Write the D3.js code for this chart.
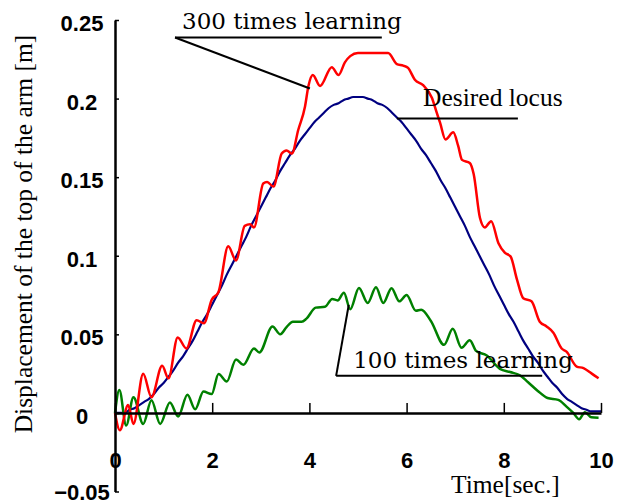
<!DOCTYPE html>
<html lang="en">
<head>
    <meta charset="UTF-8">
    <script src="https://cdnjs.cloudflare.com/ajax/libs/d3/7.8.5/d3.min.js"></script>
    <title>Displacement of the top of the arm</title>
    <style>
        body { margin: 0; background: #fff; }
        .tick-label { font-family: "Liberation Sans", Arial, sans-serif; font-size: 22px; font-weight: 700; fill: #000; }
        .axis-title { font-family: "Liberation Serif", "Times New Roman", serif; font-size: 25.5px; fill: #000; }
        .note-wide { font-family: "DejaVu Serif", serif; font-size: 23px; fill: #000; }
        .note { font-family: "Liberation Serif", "Times New Roman", serif; font-size: 25.5px; fill: #000; }
    </style>
</head>
<body>
<script>
    // tick labels
    const xTicks = [0, 2, 4, 6, 8, 10];
    const yTicks = [-0.05, 0, 0.05, 0.1, 0.15, 0.2, 0.25];
    const yTickLabels = ['\u22120.05', '0', '0.05', '0.1', '0.15', '0.2', '0.25'];

    // [time sec, displacement m]
    const desired = [
        [0, 0], [0.2, 0.000], [0.3, 0.002], [0.4, 0.003], [0.5, 0.005], [0.6, 0.007], [0.7, 0.009],
        [0.8, 0.012], [0.9, 0.016], [1.0, 0.019], [1.1, 0.023], [1.2, 0.027], [1.3, 0.032], [1.4, 0.036],
        [1.5, 0.041], [1.6, 0.046], [1.7, 0.052], [1.8, 0.058], [1.9, 0.063], [2.0, 0.069], [2.1, 0.075],
        [2.2, 0.081], [2.3, 0.088], [2.4, 0.094], [2.5, 0.100], [2.6, 0.106], [2.7, 0.112], [2.8, 0.119],
        [2.9, 0.125], [3.0, 0.131], [3.1, 0.137], [3.2, 0.143], [3.3, 0.148], [3.4, 0.154], [3.5, 0.159],
        [3.6, 0.164], [3.7, 0.168], [3.8, 0.173], [3.9, 0.177], [4.0, 0.181], [4.1, 0.185], [4.2, 0.188],
        [4.3, 0.191], [4.4, 0.194], [4.5, 0.196], [4.6, 0.197], [4.7, 0.199], [4.8, 0.200], [4.9, 0.201],
        [5.0, 0.201], [5.1, 0.201], [5.2, 0.200], [5.3, 0.199], [5.4, 0.197], [5.5, 0.196], [5.6, 0.194],
        [5.7, 0.191], [5.8, 0.188], [5.9, 0.185], [6.0, 0.181], [6.1, 0.177], [6.2, 0.173], [6.3, 0.168],
        [6.4, 0.164], [6.5, 0.159], [6.6, 0.154], [6.7, 0.148], [6.8, 0.143], [6.9, 0.137], [7.0, 0.131],
        [7.1, 0.125], [7.2, 0.119], [7.3, 0.112], [7.4, 0.106], [7.5, 0.100], [7.6, 0.094], [7.7, 0.088],
        [7.8, 0.081], [7.9, 0.075], [8.0, 0.069], [8.1, 0.063], [8.2, 0.058], [8.3, 0.052], [8.4, 0.046],
        [8.5, 0.041], [8.6, 0.036], [8.7, 0.032], [8.8, 0.027], [8.9, 0.023], [9.0, 0.019], [9.1, 0.016],
        [9.2, 0.012], [9.3, 0.009], [9.4, 0.007], [9.5, 0.005], [9.6, 0.003], [9.7, 0.002], [9.8, 0.001],
        [9.9, 0.001], [10.0, 0.001]
    ];

    const learn300 = [
        [0, 0], [0.1, -0.011], [0.27, 0.005], [0.38, -0.007], [0.58, 0.025], [0.75, 0.010], [0.97, 0.030],
        [1.1, 0.022], [1.29, 0.048], [1.47, 0.041], [1.68, 0.059], [1.83, 0.057], [1.99, 0.072],
        [2.13, 0.077], [2.33, 0.106], [2.49, 0.097], [2.67, 0.119], [2.78, 0.120], [2.86, 0.118],
        [3.05, 0.146], [3.13, 0.147], [3.26, 0.144], [3.43, 0.165], [3.53, 0.167], [3.64, 0.165],
        [3.77, 0.180], [3.91, 0.195], [3.98, 0.208], [4.07, 0.215], [4.22, 0.208], [4.46, 0.220],
        [4.60, 0.215], [4.73, 0.223], [4.84, 0.227], [5.0, 0.229], [5.3, 0.229], [5.62, 0.229],
        [5.80, 0.222], [5.93, 0.221], [6.03, 0.2195], [6.17, 0.212], [6.34, 0.2085], [6.52, 0.2005],
        [6.62, 0.191], [6.69, 0.1845], [6.80, 0.174], [6.96, 0.1785], [7.06, 0.170], [7.14, 0.161],
        [7.30, 0.159], [7.38, 0.152], [7.51, 0.124], [7.61, 0.118], [7.74, 0.122], [7.89, 0.108],
        [8.02, 0.102], [8.14, 0.0995], [8.27, 0.085], [8.40, 0.073], [8.57, 0.071], [8.74, 0.058],
        [8.88, 0.055], [9.02, 0.051], [9.19, 0.041], [9.29, 0.039], [9.50, 0.0295], [9.64, 0.0285],
        [9.81, 0.025], [9.95, 0.022]
    ];

    const learn100 = [
        [0, 0], [0.09, 0.0146], [0.23, -0.008], [0.38, 0.010], [0.58, -0.007], [0.75, 0.008],
        [0.93, -0.007], [1.13, 0.0066], [1.30, -0.0023], [1.49, 0.0115], [1.65, 0.0023], [1.82, 0.0136],
        [1.99, 0.012], [2.13, 0.0248], [2.30, 0.020], [2.49, 0.034], [2.64, 0.0306], [2.86, 0.041],
        [2.97, 0.0384], [3.24, 0.055], [3.40, 0.050], [3.53, 0.0546], [3.66, 0.058], [3.84, 0.058],
        [3.94, 0.060], [4.13, 0.067], [4.32, 0.0675], [4.47, 0.0725], [4.58, 0.0716], [4.71, 0.0765],
        [4.84, 0.066], [5.02, 0.0795], [5.20, 0.070], [5.37, 0.080], [5.52, 0.070], [5.69, 0.0794],
        [5.85, 0.071], [6.00, 0.075], [6.19, 0.065], [6.30, 0.0656], [6.50, 0.0585], [6.77, 0.0433],
        [6.95, 0.0535], [7.13, 0.0415], [7.30, 0.0463], [7.43, 0.0395], [7.65, 0.0365], [7.92, 0.028],
        [8.13, 0.026], [8.33, 0.024], [8.50, 0.0195], [8.70, 0.014], [8.90, 0.0095], [9.12, 0.0083],
        [9.29, 0.004], [9.43, 0.0], [9.55, -0.004], [9.67, 0.0005], [9.80, -0.0028], [9.95, -0.003]
    ];

    const series = [
        {name: 'Desired locus', values: desired, color: '#000080', width: 2.2},
        {name: '100 times learning', values: learn100, color: '#008000', width: 2.5},
        {name: '300 times learning', values: learn300, color: '#ff0000', width: 2.5}
    ];

    // annotations in data units: label position, underline, leader end
    const notes = [
        {text: '300 times learning', cls: 'note-wide', tx: 1.38, ty: 0.2445, x0: 1.235, x1: 5.49, ly: 0.2389, leader: [4.01, 0.2064]},
        {text: 'Desired locus', cls: 'note', tx: 6.34, ty: 0.1955, x0: 5.80, x1: 8.29, ly: 0.1873, leader: null},
        {text: '100 times learning', cls: 'note-wide', tx: 4.90, ty: 0.0287, x0: 4.55, x1: 8.79, ly: 0.0236, leader: [4.81, 0.0688]}
    ];

    const width = 629;
    const height = 504;

    const svg = d3.select('body').append('svg')
        .attr('width', width)
        .attr('height', height);

    const x = d3.scaleLinear().domain([0, 10]).range([115, 601]);
    const y = d3.scaleLinear().domain([-0.05, 0.25]).range([491.5, 20]);

    // curves
    const line = d3.line()
        .x(function(d) { return x(d[0]); })
        .y(function(d) { return y(d[1]); })
        .curve(d3.curveMonotoneX);

    svg.selectAll('.series')
        .data(series)
        .enter()
        .append('path')
        .attr('class', 'series')
        .attr('fill', 'none')
        .attr('stroke', function(d) { return d.color; })
        .attr('stroke-width', function(d) { return d.width; })
        .attr('stroke-linejoin', 'round')
        .attr('d', function(d) { return line(d.values); });

    // x axis on the zero line, ticks pointing up
    const xAxis = svg.append('g')
        .attr('transform', 'translate(0,' + y(0) + ')')
        .call(d3.axisBottom(x).tickValues(xTicks).tickSizeInner(-10).tickSizeOuter(0).tickFormat(d3.format('d')));

    xAxis.select('.domain').attr('stroke', '#000').attr('stroke-width', 2.5);
    xAxis.selectAll('line').attr('stroke', '#000').attr('stroke-width', 1.5);
    xAxis.selectAll('text')
        .attr('class', 'tick-label')
        .attr('y', 55)
        .attr('dy', 0);
    xAxis.attr('font-size', null).attr('font-family', null);

    // y axis, ticks pointing right
    const yAxis = svg.append('g')
        .attr('transform', 'translate(' + x(0) + ',0)')
        .call(d3.axisLeft(y).tickValues(yTicks).tickSizeInner(-4).tickSizeOuter(0)
            .tickFormat(function(d, i) { return yTickLabels[i]; }));

    yAxis.select('.domain').attr('stroke', '#000').attr('stroke-width', 2.5);
    yAxis.selectAll('line').attr('stroke', '#000').attr('stroke-width', 1.5);
    yAxis.selectAll('text')
        .attr('class', 'tick-label')
        .attr('text-anchor', 'middle')
        .attr('x', 82 - x(0))
        .attr('dy', function(d) { return d < 0 ? 7.5 : 10.5; });
    yAxis.attr('font-size', null).attr('font-family', null);

    // axis titles
    svg.append('text')
        .attr('class', 'axis-title')
        .attr('transform', 'translate(32,234) rotate(-90)')
        .attr('text-anchor', 'middle')
        .text('Displacement of the top of the arm [m]');

    svg.append('text')
        .attr('class', 'axis-title')
        .attr('x', 451)
        .attr('y', 493)
        .text('Time[sec.]');

    // annotations
    const noteGroups = svg.selectAll('.annotation')
        .data(notes)
        .enter()
        .append('g')
        .attr('class', 'annotation');

    noteGroups.append('line')
        .attr('x1', function(d) { return x(d.x0); })
        .attr('x2', function(d) { return x(d.x1); })
        .attr('y1', function(d) { return y(d.ly); })
        .attr('y2', function(d) { return y(d.ly); })
        .attr('stroke', '#000')
        .attr('stroke-width', 2);

    noteGroups.filter(function(d) { return d.leader; })
        .append('line')
        .attr('x1', function(d) { return x(d.x0); })
        .attr('y1', function(d) { return y(d.ly); })
        .attr('x2', function(d) { return x(d.leader[0]); })
        .attr('y2', function(d) { return y(d.leader[1]); })
        .attr('stroke', '#000')
        .attr('stroke-width', 2);

    noteGroups.append('text')
        .attr('class', function(d) { return d.cls; })
        .attr('x', function(d) { return x(d.tx); })
        .attr('y', function(d) { return y(d.ty); })
        .text(function(d) { return d.text; });
</script>
</body>
</html>
